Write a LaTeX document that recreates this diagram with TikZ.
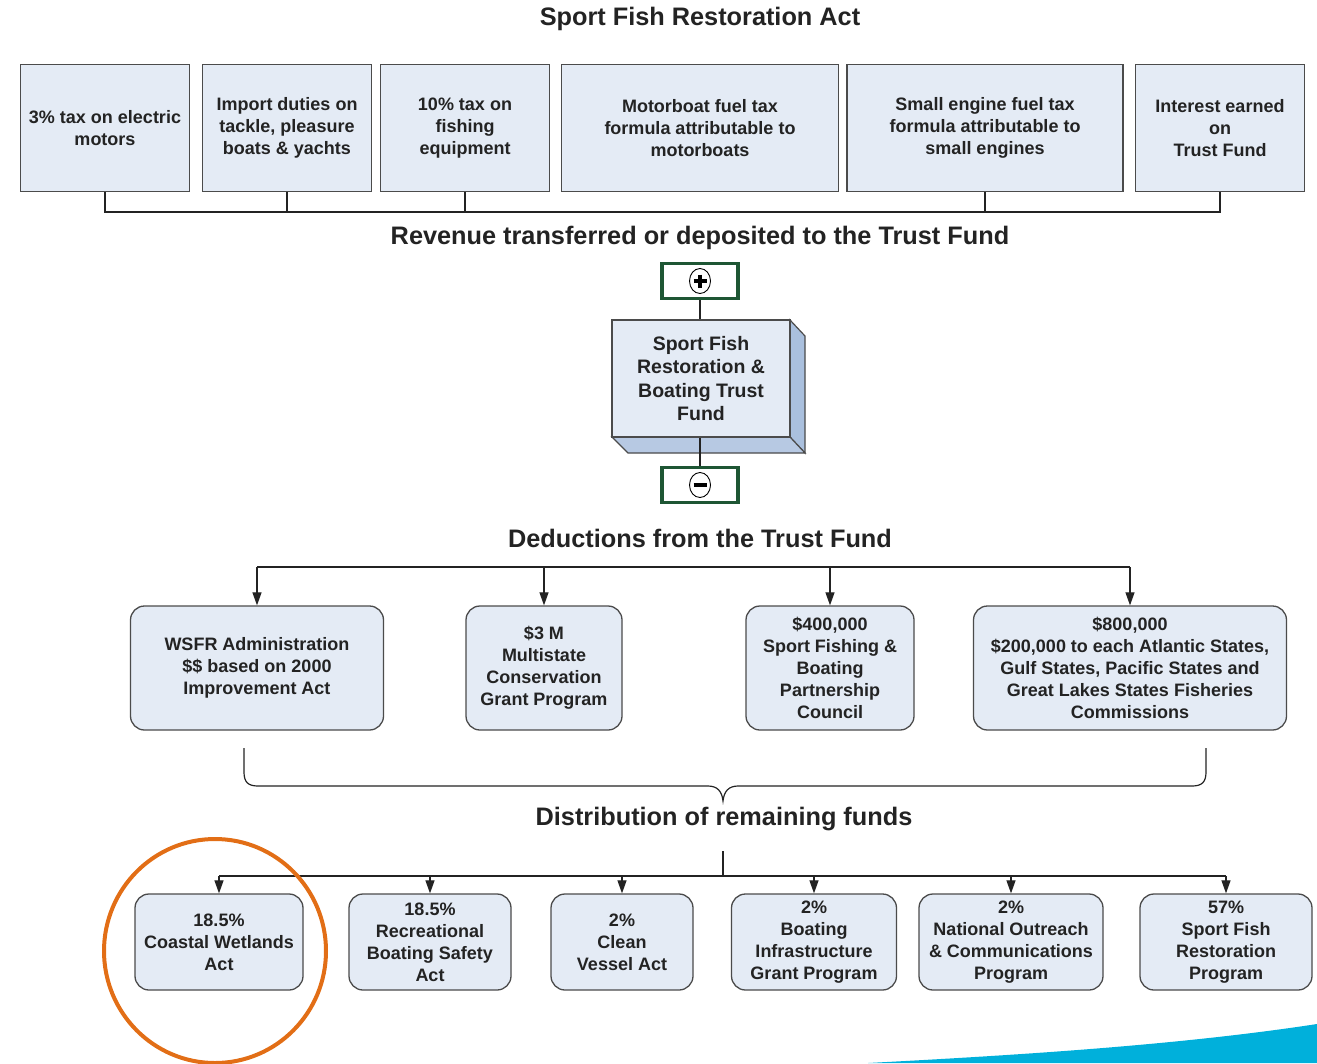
\documentclass[tikz,border=0pt]{standalone}
\usepackage{fontspec}
\setmainfont{Liberation Sans}
\usetikzlibrary{arrows.meta}

\definecolor{boxfill}{RGB}{228,235,245}
\definecolor{boxline}{RGB}{75,75,75}
\definecolor{sidefill}{RGB}{170,192,222}
\definecolor{signgreen}{RGB}{30,86,52}
\definecolor{ringorange}{RGB}{226,110,22}
\definecolor{swooshblue}{RGB}{0,176,219}
\definecolor{inkgray}{RGB}{35,35,35}

\tikzset{
  heading/.style={font=\bfseries\fontsize{25.3}{29}\selectfont, text=inkgray},
  topbox/.style={draw=boxline, fill=boxfill, line width=1.3, minimum height=127, align=center,
    text=inkgray, font=\bfseries\fontsize{18}{22}\selectfont, inner sep=2},
  dedbox/.style={topbox, rounded corners=14, minimum height=124},
  distbox/.style={topbox, rounded corners=14, minimum height=96},
  signbox/.style={draw=signgreen, fill=white, line width=3.5, minimum width=76, minimum height=35},
  flow/.style={draw=inkgray, line width=1.2},
  flowarr/.style={flow, -{Triangle[width=9,length=13]}}
}

\begin{document}
\begin{tikzpicture}[x=1pt,y=1pt,yscale=-1,xscale=1]
\useasboundingbox (0,0) rectangle (1317,1063);

% Blue swoosh
\fill[swooshblue] (868,1063) .. controls (1020,1055) and (1180,1045) .. (1317,1024) -- (1317,1063) -- cycle;

% Headings
\node[heading] (acttitle) at (700,19) {Sport Fish Restoration Act};
\node[heading] (revtitle) at (700,238) {Revenue transferred or deposited to the Trust Fund};
\node[heading] (dedtitle) at (700,538) {Deductions from the Trust Fund};
\node[heading] (disttitle) at (724,819) {Distribution of remaining funds};

% Revenue sources
\node[topbox, minimum width=169] (electric) at (105,128) {3\% tax on electric\\motors};
\node[topbox, minimum width=169] (import) at (287,128) {Import duties on\\tackle, pleasure\\boats \& yachts};
\node[topbox, minimum width=169] (fishing) at (465,128) {10\% tax on\\fishing\\equipment};
\node[topbox, minimum width=277] (motorboat) at (700,128) {Motorboat fuel tax\\formula attributable to\\motorboats};
\node[topbox, minimum width=276] (smallengine) at (985,128) {Small engine fuel tax\\formula attributable to\\small engines};
\node[topbox, minimum width=169] (interest) at (1220,128) {Interest earned\\on\\Trust Fund};

\coordinate (topbus) at (700,212);
\draw[flow] (electric.south) |- (topbus) -| (interest.south);
\foreach \src in {import,fishing,smallengine}
  \draw[flow] (\src.south) -- (\src.south |- topbus);

% Trust fund
\node[signbox] (plus) at (700,281) {};
\draw[line width=0.9] (plus.center) ellipse (10.5 and 12.5);
\draw[line width=3.2] ([xshift=-6.5]plus.center) -- ([xshift=6.5]plus.center)
  ([yshift=-6.5]plus.center) -- ([yshift=6.5]plus.center);

\fill[sidefill, draw=boxline, line width=1.2] (790,320) -- (805,336) -- (805,453) -- (790,437) -- cycle;
\fill[sidefill!85!white, draw=boxline, line width=1.2] (612,437) -- (790,437) -- (805,453) -- (628,453) -- cycle;
\node[topbox, minimum width=178, minimum height=117, font=\bfseries\fontsize{19.5}{23.5}\selectfont] (fund) at (701,378.5)
  {Sport Fish\\Restoration \&\\Boating Trust\\Fund};

\node[signbox] (minus) at (700,485) {};
\draw[line width=0.9] (minus.center) ellipse (10.5 and 12.5);
\draw[line width=3.2] ([xshift=-6.5]minus.center) -- ([xshift=6.5]minus.center);

\draw[flow] (plus.south) -- (fund.north -| plus.south);
\draw[flow] (fund.south -| minus.north) -- (minus.north);

% Deductions
\node[dedbox, minimum width=253] (wsfr) at (257,668) {WSFR Administration\\\$\$ based on 2000\\Improvement Act};
\node[dedbox, minimum width=156] (multistate) at (544,668) {\$3 M\\Multistate\\Conservation\\Grant Program};
\node[dedbox, minimum width=168] (council) at (830,668) {\$400,000\\Sport Fishing \&\\Boating\\Partnership\\Council};
\node[dedbox, minimum width=313] (commissions) at (1130,668) {\$800,000\\\$200,000 to each Atlantic States,\\Gulf States, Pacific States and\\Great Lakes States Fisheries\\Commissions};

\coordinate (dedbus) at (700,567);
\draw[flow] (wsfr.north |- dedbus) -- (commissions.north |- dedbus);
\foreach \dst in {wsfr,multistate,council,commissions}
  \draw[flowarr] (\dst.north |- dedbus) -- (\dst.north);

% Brace
\draw[flow] (244,748) -- (244,772) .. controls (244,782) and (248,786) .. (258,786) -- (708,786)
  .. controls (717,786) and (722,791) .. (723,801) .. controls (724,791) and (729,786) .. (738,786)
  -- (1192,786) .. controls (1202,786) and (1206,782) .. (1206,772) -- (1206,748);

% Distribution
\node[distbox, minimum width=168] (wetlands) at (219,942) {18.5\%\\Coastal Wetlands\\Act};
\node[distbox, minimum width=162] (safety) at (430,942) {18.5\%\\Recreational\\Boating Safety\\Act};
\node[distbox, minimum width=142] (vessel) at (622,942) {2\%\\Clean\\Vessel Act};
\node[distbox, minimum width=165] (infra) at (814,942) {2\%\\Boating\\Infrastructure\\Grant Program};
\node[distbox, minimum width=184] (outreach) at (1011,942) {2\%\\National Outreach\\\& Communications\\Program};
\node[distbox, minimum width=172] (sfrprog) at (1226,942) {57\%\\Sport Fish\\Restoration\\Program};

\coordinate (distbus) at (723,876);
\draw[flow] (723,851) -- (distbus);
\draw[flow] (wetlands.north |- distbus) -- (sfrprog.north |- distbus);
\foreach \dst in {wetlands,safety,vessel,infra,outreach,sfrprog}
  \draw[flowarr] (\dst.north |- distbus) -- (\dst.north);

% Orange ring
\draw[ringorange, line width=4] (215,951) ellipse (111 and 112);

\end{tikzpicture}
\end{document}
